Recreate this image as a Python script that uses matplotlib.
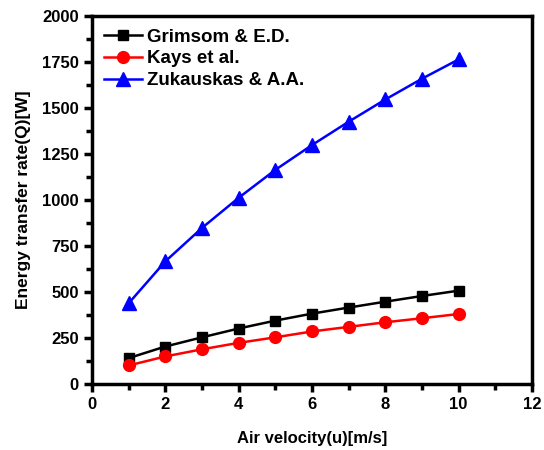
import numpy as np
import matplotlib
matplotlib.use("Agg")
import matplotlib.pyplot as plt
from matplotlib.ticker import MultipleLocator

plt.rcParams['font.family'] = ['Liberation Sans', 'DejaVu Sans']
plt.rcParams['font.weight'] = 'bold'

# Dados
velocidade = [1, 2, 3, 4, 5, 6, 7, 8, 9, 10]
grimsom = [140, 203, 253, 301, 344, 382, 415, 447, 478, 507]
kays = [100, 149, 188, 223, 253, 285, 310, 335, 357, 380]
zukauskas = [438, 666, 848, 1012, 1164, 1299, 1426, 1547, 1660, 1765]

fig = plt.figure(figsize=(5.44, 4.50), dpi=100)
ax = fig.add_axes([0.169, 0.147, 0.809, 0.817])

ax.plot(velocidade, grimsom, color='black', marker='s', markersize=7.5, lw=1.8, label='Grimsom & E.D.')
ax.plot(velocidade, kays, color='red', marker='o', markersize=8.5, lw=1.8, label='Kays et al.')
ax.plot(velocidade, zukauskas, color='blue', marker='^', markersize=9.5, lw=1.8, label='Zukauskas & A.A.')

ax.set_xlim(0, 12)
ax.set_ylim(0, 2000)
ax.xaxis.set_major_locator(MultipleLocator(2))
ax.xaxis.set_minor_locator(MultipleLocator(1))
ax.yaxis.set_major_locator(MultipleLocator(250))
ax.yaxis.set_minor_locator(MultipleLocator(125))

for s in ax.spines.values():
    s.set_linewidth(2.5)
ax.tick_params(which='major', direction='out', length=6, width=2.5, labelsize=12)
ax.tick_params(which='minor', direction='out', length=4, width=2.5)

ax.set_xlabel('Air velocity(u)[m/s]', fontsize=12, fontweight='bold', labelpad=14)
ax.set_ylabel('Energy transfer rate(Q)[W]', fontsize=12.5, fontweight='bold', labelpad=8)

ax.legend(loc='upper left', frameon=False, fontsize=13.5, handlelength=2.0,
          borderaxespad=0.25, labelspacing=0.25, handletextpad=0.3)

plt.savefig('out.png', dpi=100)
